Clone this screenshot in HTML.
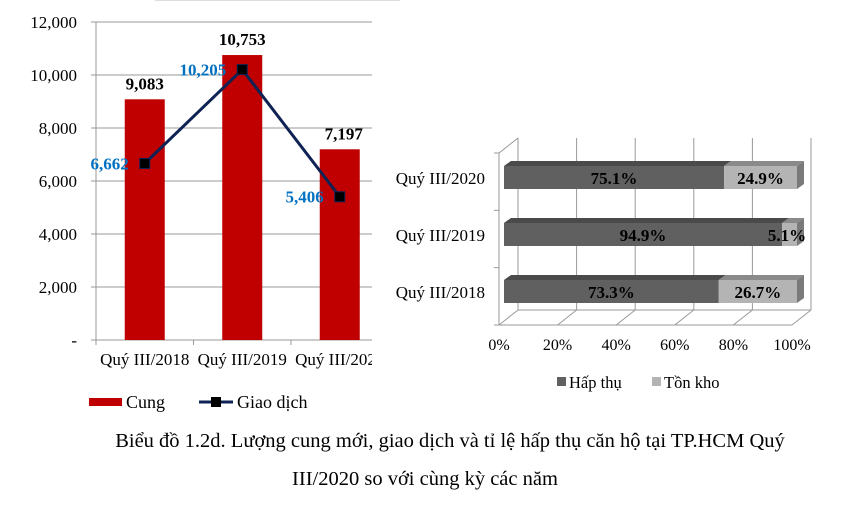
<!DOCTYPE html>
<html><head><meta charset="utf-8"><style>
body{margin:0;background:#fff;width:855px;height:517px;overflow:hidden;font-family:"Liberation Serif",serif}
svg text{font-family:"Liberation Serif",serif}
</style></head><body>
<svg id="c" width="855" height="517">
<line x1="155" y1="0.5" x2="400" y2="0.5" stroke="#ddd"/>
<g id="left"></g>
<g id="right"></g>
<text x="450" y="447" text-anchor="middle" font-size="20.5">Biểu đồ 1.2d. Lượng cung mới, giao dịch và tỉ lệ hấp thụ căn hộ tại TP.HCM Quý</text>
<text x="425" y="485" text-anchor="middle" font-size="20.5">III/2020 so với cùng kỳ các năm</text>
</svg>
<script>
const categories=["Quý III/2018","Quý III/2019","Quý III/2020"];
const supply=[9083,10753,7197];
const transactions=[6662,10205,5406];
const yTicks=[0,2000,4000,6000,8000,10000,12000];
const barCats=["Quý III/2018","Quý III/2019","Quý III/2020"];
const absorbed=[73.3,94.9,75.1];
const inventory=[26.7,5.1,24.9];
const xTicks=[0,20,40,60,80,100];
const NS="http://www.w3.org/2000/svg";
function mk(p,t,a,txt){const e=document.createElementNS(NS,t);for(const k in a)e.setAttribute(k,a[k]);if(txt!==undefined)e.textContent=txt;p.appendChild(e);return e;}
const fmt=v=>v.toLocaleString("en-US");
const L=document.getElementById("left");
const x0=96,xr=372,yb=340,yt=22,cw=97.5;
const y=v=>yb-(v/12000)*(yb-yt);
const cx=i=>x0+cw*(i+0.5);
yTicks.forEach(v=>{
 const g=mk(L,"line",{x1:x0-5,x2:xr,y1:y(v),y2:y(v),stroke:"#999"});
 
 const t=mk(L,"text",{x:77,y:y(v)+6,"text-anchor":"end","font-size":17},v===0?"-":fmt(v));
 
});
mk(L,"line",{x1:x0,x2:x0,y1:yt,y2:yb+4,stroke:"#999"});
for(let i=0;i<3;i++){const tk=mk(L,"line",{x1:x0+cw*i,x2:x0+cw*i,y1:yb,y2:yb+5,stroke:"#999"});}
const clip=mk(L,"clipPath",{id:"lc"});mk(clip,"rect",{x:0,y:0,width:xr,height:517});
const cg=mk(L,"g",{"clip-path":"url(#lc)"});
categories.forEach((c,i)=>{
 const b=mk(L,"rect",{x:cx(i)-20,y:y(supply[i]),width:40,height:yb-y(supply[i]),fill:"#c00000"});
 
 const t=mk(L,"text",{x:cx(i)+(i==2?4:0),y:y(supply[i])-10,"text-anchor":"middle","font-size":17,"font-weight":"bold"},fmt(supply[i]));
 
 const xl=mk(cg,"text",{x:cx(i),y:yb+25,"text-anchor":"middle","font-size":17},c);
 
});
const pts=transactions.map((v,i)=>cx(i)+","+y(v)).join(" ");
const pl=mk(L,"polyline",{points:pts,fill:"none",stroke:"#0f2254","stroke-width":3});

transactions.forEach((v,i)=>{
 const m=mk(L,"rect",{x:cx(i)-5,y:y(v)-5,width:10,height:10,fill:"#000",stroke:"#0f2254","stroke-width":1});
 
 const t=mk(L,"text",{x:cx(i)-16,y:y(v)+6,"text-anchor":"end","font-size":17,"font-weight":"bold",fill:"#0070c0"},fmt(v));
 
});
let e=mk(L,"rect",{x:89,y:398,width:33,height:8,fill:"#c00000"});
e=mk(L,"text",{x:126,y:408,"font-size":18},"Cung");
e=mk(L,"line",{x1:199,x2:233,y1:402,y2:402,stroke:"#0f2254","stroke-width":3});
e=mk(L,"rect",{x:211,y:397,width:10,height:10,fill:"#000"});
e=mk(L,"text",{x:237,y:408,"font-size":18},"Giao dịch");
const R=document.getElementById("right");
const fx0=499,fw=293,dx=19,dy=-15,fy=325,wt=153;
const px=v=>fx0+v/100*fw;
mk(R,"line",{x1:fx0,y1:wt,x2:fx0,y2:fy,stroke:"#999"});
mk(R,"line",{x1:fx0,y1:wt,x2:fx0+dx,y2:wt+dy,stroke:"#999"});
mk(R,"line",{x1:fx0+dx,y1:wt+dy,x2:fx0+dx,y2:fy+dy,stroke:"#999"});
[0,1,2,3].forEach(k=>{const yy=fy-(fy-wt)*k/3;mk(R,"line",{x1:fx0-5,x2:fx0,y1:yy,y2:yy,stroke:"#999"});});
xTicks.forEach(v=>{
 const g=mk(R,"line",{x1:px(v)+dx,x2:px(v)+dx,y1:wt+dy,y2:fy+dy,stroke:"#999"});
 
 mk(R,"line",{x1:px(v),y1:fy,x2:px(v)+dx,y2:fy+dy,stroke:"#999"});
 const t=mk(R,"text",{x:px(v),y:350,"text-anchor":"middle","font-size":16},v+"%");
 
});
mk(R,"line",{x1:fx0,x2:px(100),y1:fy,y2:fy,stroke:"#999"});
mk(R,"line",{x1:fx0+dx,x2:px(100)+dx,y1:fy+dy,y2:fy+dy,stroke:"#999"});
const bx0=504,bw=293,bh=23,ox=7,oy=-5;
const bpx=v=>bx0+v/100*bw;
const rowY=[280,223,166];
barCats.forEach((c,i)=>{
 const top=rowY[i];
 const segs=[[0,absorbed[i],"#606060","#4a4a4a","hap-thu"],[absorbed[i],absorbed[i]+inventory[i],"#b4b4b4","#8a8a8a","ton-kho"]];
 segs.forEach(s=>{
  const a=bpx(s[0]),b=bpx(s[1]);
  const tp=mk(R,"polygon",{points:`${a},${top} ${a+ox},${top+oy} ${b+ox},${top+oy} ${b},${top}`,fill:s[3]});
  
  const f=mk(R,"rect",{x:a,y:top,width:b-a,height:bh,fill:s[2]});
  
 });
 const re=bpx(100);
 mk(R,"polygon",{points:`${re},${top} ${re+ox},${top+oy} ${re+ox},${top+oy+bh} ${re},${top+bh}`,fill:"#7a7a7a"});
 let t=mk(R,"text",{x:(bpx(0)+bpx(absorbed[i]))/2,y:top+18,"text-anchor":"middle","font-size":17,"font-weight":"bold"},absorbed[i].toFixed(1)+"%");
 
 const cxI=inventory[i]<10?bpx(100)-10:(bpx(absorbed[i])+bpx(100))/2;
 t=mk(R,"text",{x:cxI,y:top+18,"text-anchor":"middle","font-size":17,"font-weight":"bold"},inventory[i].toFixed(1)+"%");
 
 t=mk(R,"text",{x:485,y:top+18,"text-anchor":"end","font-size":17},c);
 
});
e=mk(R,"rect",{x:557,y:377,width:9,height:9,fill:"#606060"});
e=mk(R,"text",{x:569,y:388,"font-size":16.5},"Hấp thụ");
e=mk(R,"rect",{x:652,y:377,width:9,height:9,fill:"#b4b4b4"});
e=mk(R,"text",{x:664,y:388,"font-size":16.5},"Tồn kho");
</script>
</body></html>
